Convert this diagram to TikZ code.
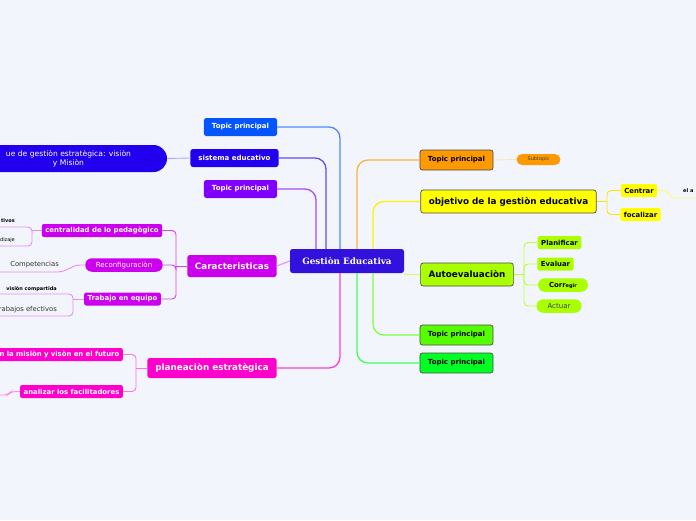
\documentclass[tikz,border=0pt]{standalone}
\usepackage{fontspec}
\setmainfont{DejaVu Sans}
\newfontfamily\rootfont{DejaVu Serif}
\usetikzlibrary{positioning}

\definecolor{bgpage}{RGB}{243,245,253}
\definecolor{cRoot}{RGB}{51,17,221}
\definecolor{cBlue}{RGB}{5,85,255}
\definecolor{cDeep}{RGB}{34,0,238}
\definecolor{cViolet}{RGB}{127,0,255}
\definecolor{cPurple}{RGB}{204,0,238}
\definecolor{cPink}{RGB}{255,0,204}
\definecolor{cOrange}{RGB}{255,153,0}
\definecolor{cYellow}{RGB}{255,255,0}
\definecolor{cLime}{RGB}{170,255,0}
\definecolor{cGreen}{RGB}{85,255,0}
\definecolor{cBright}{RGB}{0,255,34}

\newcommand{\fsTopic}{\fontsize{7}{8}\selectfont\bfseries}
\newcommand{\fsMain}{\fontsize{8.8}{10}\selectfont\bfseries}
\newcommand{\fsSub}{\fontsize{6.9}{8}\selectfont\bfseries}
\newcommand{\fsTiny}{\fontsize{5}{6}\selectfont}

\tikzset{
  topic/.style={fill=#1, rounded corners=2.5pt, inner xsep=8pt, inner ysep=0pt,
    minimum height=18pt, text=white, font=\fsTopic},
  mainbox/.style={fill=#1, draw=black!70, line width=0.7pt, rounded corners=2.5pt,
    inner xsep=8pt, inner ysep=0pt, minimum height=20pt, text=black, font=\fsTopic},
  subbox/.style={fill=#1, rounded corners=2pt, inner xsep=3.5pt, inner ysep=0pt,
    minimum height=13pt, font=\fsSub},
  pillbox/.style={fill=#1, rounded corners=6.5pt, inner xsep=10.5pt, inner ysep=0pt,
    minimum height=13.5pt, font=\fontsize{7}{8}\selectfont},
  leafb/.style={inner sep=0pt, font=\fsTiny\bfseries},
  leafn/.style={inner sep=0pt, font=\fsTiny},
  leaft/.style={inner sep=0pt, font=\fontsize{6.8}{8}\selectfont, text=black!80},
  mlink/.style={draw=#1, line width=1.3pt, rounded corners=11pt},
  slink/.style={draw=#1, line width=0.9pt, rounded corners=4pt},
}

\begin{document}
\begin{tikzpicture}[x=1pt, y=-1pt]
  \useasboundingbox (0,0) rectangle (696,520);
  \fill[bgpage] (0,0) rectangle (696,520);

  % central topic
  \node[fill=cRoot, rounded corners=2.5pt, minimum width=114pt, minimum height=24pt,
    inner sep=0pt, text=white, font=\rootfont\fontsize{8.8}{10}\selectfont\bfseries]
    (root) at (347,261) {Gestiòn Educativa};

  % left branches
  \node[topic=cBlue] (tb) at (240.5,127) {Topic principal};
  \node[topic=cDeep] (sis) at (234.5,158) {sistema educativo};
  \node[topic=cViolet] (tv) at (240.5,189) {Topic principal};
  \node[fill=cDeep, rounded corners=13.5pt, minimum width=197pt, minimum height=27pt,
    inner sep=0pt, align=center, text=white, font=\fontsize{7.6}{9}\selectfont]
    (enf) at (68.5,158.5) {ue de gestiòn estratègica: visiòn\\y Misiòn};

  \node[fill=cPurple, rounded corners=2.5pt, inner xsep=7.5pt, inner ysep=0pt,
    minimum height=22pt, text=white, font=\fsMain] (car) at (232,266) {Caracteristicas};
  \node[subbox=cPurple, text=white] (cen) at (102,230.5) {centralidad de lo pedagògico};
  \node[pillbox=cPurple, text=white] (reco) at (124,265) {Reconfiguraciòn};
  \node[subbox=cPurple, text=white] (trab) at (122.5,299) {Trabajo en equipo};

  \node[fill=cPink, rounded corners=2.5pt, inner xsep=8pt, inner ysep=0pt,
    minimum height=20pt, text=white, font=\fsMain] (plan) at (212,368) {planeaciòn estratègica};
  \node[subbox=cPink, text=white, text width=125pt, align=right, anchor=east]
    (mis) at (123,354.5) {n la misiòn y visòn en el futuro};
  \node[subbox=cPink, text=white] (ana) at (71.5,391.5) {analizar los facilitadores};

  % clipped leaves on the left edge
  \node[leafb, anchor=east] (tiv) at (15,221) {tivos};
  \node[leafn, anchor=east] (diz) at (15,240.5) {dizaje};
  \node[leaft, anchor=east] (comp) at (59,264.5) {Competencias};
  \node[leafb, anchor=east] (vis) at (57,289) {visiòn compartida};
  \node[leaft, anchor=east] (raba) at (57,309.5) {rabajos efectivos};

  % right branches
  \node[mainbox=cOrange] (to) at (456.5,160) {Topic principal};
  \node[pillbox=cOrange, font=\fsTiny, text=black!75, inner xsep=11pt,
    minimum height=11pt, rounded corners=5.5pt] (subt) at (538.5,159.5) {Subtopic};
  \node[mainbox=cYellow, font=\fsMain, minimum height=23pt] (obj) at (508.5,201.5)
    {objetivo de la gestiòn educativa};
  \node[subbox=cYellow] (cent) at (639,190.5) {Centrar};
  \node[subbox=cYellow] (foc) at (640.5,214.5) {focalizar};
  \node[leafb, anchor=west] (ela) at (683,191) {el a};

  \node[mainbox=cLime, font=\fsMain, minimum height=23pt] (auto) at (467,274.5)
    {Autoevaluaciòn};
  \node[subbox=cLime] (pla) at (559.5,242.5) {Planificar};
  \node[subbox=cLime] (eva) at (555.5,264) {Evaluar};
  \node[pillbox=cLime, font=\fsSub, inner xsep=11pt] (cor) at (563,285)
    {Corr{\fontsize{5}{6}\selectfont egir}};
  \node[pillbox=cLime, text=black!75, inner xsep=11pt] (act) at (559,306) {Actuar};

  \node[mainbox=cGreen] (tg) at (456.5,335) {Topic principal};
  \node[mainbox=cBright] (tgb) at (456.5,363) {Topic principal};

  % main connectors
  \draw[mlink=cBlue!70] ([xshift=-7pt]root.north) |- (tb.east);
  \draw[mlink=cDeep!70] ([xshift=-21pt]root.north) |- (sis.east);
  \draw[mlink=cViolet!70] ([xshift=-31pt]root.north) |- (tv.east);
  \draw[mlink=cOrange!75] ([xshift=10pt]root.north) |- (to.west);
  \draw[mlink=cYellow!90!orange] ([xshift=26pt]root.north) |- (obj.west);
  \draw[mlink=cPink!75] ([xshift=-7pt]root.south) |- (plan.east);
  \draw[mlink=cBright!75] ([xshift=10pt]root.south) |- (tgb.west);
  \draw[mlink=cGreen!75] ([xshift=26pt]root.south) |- (tg.west);
  \draw[mlink=cPurple!40] (root.west) -- (car.east);
  \draw[mlink=cLime!60] (auto.west -| root.east) -- (auto.west);
  \draw[slink=cDeep!35] (sis.west) -- (enf.east);

  % sub connectors, left
  \coordinate (cj) at (176,266);
  \draw[slink=cPurple!75] (car.west) -- (cj);
  \draw[slink=cPurple!75] (cj) |- (cen.east);
  \draw[slink=cPurple!75] (cj) |- (reco.east);
  \draw[slink=cPurple!75] (cj) |- (trab.east);

  \coordinate (cenj) at (32,230.5);
  \coordinate (tivend) at (-5,227);
  \coordinate (dizend) at (-5,246);
  \draw[slink=cPurple!45] (cen.west) -- (cenj);
  \draw[slink=cPurple!45] (cenj) |- (tivend);
  \draw[slink=cPurple!45] (cenj) |- (dizend);

  \coordinate (compend) at (-5,272);
  \draw[slink=cPurple!45] (reco.west) -- (76,265) -- (62,272) -- (compend);

  \coordinate (trabj) at (73,299);
  \coordinate (visend) at (-5,294);
  \coordinate (rabaend) at (-5,316);
  \draw[slink=cPurple!45] (trab.west) -- (trabj);
  \draw[slink=cPurple!45] (trabj) |- (visend);
  \draw[slink=cPurple!45] (trabj) |- (rabaend);

  \coordinate (pj) at (136,368);
  \draw[slink=cPink!55] (plan.west) -- (pj);
  \draw[slink=cPink!55] (pj) |- (mis.east);
  \draw[slink=cPink!55] (pj) |- (ana.east);
  \coordinate (anaend) at (-5,395);
  \draw[slink=cPink!45] (ana.west) -- (11,391.5) -- (8,395) -- (anaend);

  % sub connectors, right
  \draw[slink=cOrange!30] (to.east) -- (subt.west);

  \coordinate (oj) at (607,201.5);
  \draw[slink=cYellow!80!orange] (obj.east) -- (oj);
  \draw[slink=cYellow!80!orange] (oj) |- (cent.west);
  \draw[slink=cYellow!80!orange] (oj) |- (foc.west);
  \coordinate (elaend) at (700,198);
  \draw[slink=cYellow!60] (cent.east) -- (666,190.5) -- (672,198) -- (elaend);

  \coordinate (aj) at (524,274.5);
  \draw[slink=cLime!80] (auto.east) -- (aj);
  \foreach \n in {pla,eva,cor,act}
    \draw[slink=cLime!80] (aj) |- (\n.west);
\end{tikzpicture}
\end{document}
